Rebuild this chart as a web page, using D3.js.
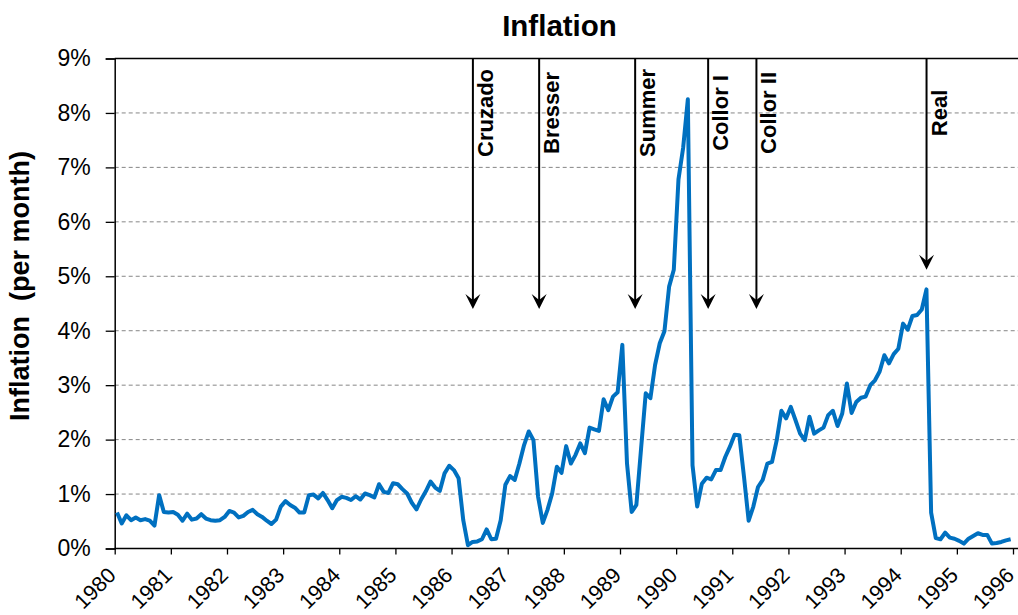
<!DOCTYPE html>
<html>
<head>
<meta charset="utf-8">
<script src="https://cdn.jsdelivr.net/npm/d3@7"></script>
<style>
  body { margin: 0; background: #fff; }
  svg { display: block; }
  text { font-family: Arial, "Liberation Sans", sans-serif; fill: #000; }
</style>
</head>
<body>
<svg id="svg_inflation" width="1018" height="615"></svg>
<script>
// monthly inflation (% per month)
const y1980 = [0.66, 0.46, 0.61, 0.52, 0.57, 0.52, 0.54, 0.51, 0.42, 0.98, 0.67, 0.66];
const y1981 = [0.67, 0.62, 0.51, 0.64, 0.53, 0.55, 0.63, 0.55, 0.52, 0.51, 0.52, 0.58];
const y1982 = [0.69, 0.66, 0.57, 0.60, 0.67, 0.71, 0.63, 0.58, 0.51, 0.45, 0.53, 0.77];
const y1983 = [0.87, 0.80, 0.75, 0.66, 0.66, 0.98, 0.99, 0.92, 1.02, 0.89, 0.74, 0.89];
const y1984 = [0.95, 0.93, 0.89, 0.96, 0.90, 1.01, 0.98, 0.94, 1.18, 1.04, 1.02, 1.20];
const y1985 = [1.18, 1.09, 1.01, 0.84, 0.72, 0.90, 1.05, 1.23, 1.12, 1.06, 1.38, 1.52];
const y1986 = [1.44, 1.29, 0.52, 0.06, 0.12, 0.13, 0.17, 0.35, 0.17, 0.18, 0.52, 1.17];
const y1987 = [1.33, 1.26, 1.56, 1.90, 2.15, 1.99, 0.95, 0.47, 0.71, 1.01, 1.50, 1.39];
const y1988 = [1.88, 1.56, 1.72, 1.93, 1.75, 2.22, 2.19, 2.16, 2.74, 2.54, 2.79, 2.87];
const y1989 = [3.74, 1.56, 0.67, 0.80, 1.83, 2.85, 2.76, 3.37, 3.77, 3.99, 4.81, 5.12];
const y1990 = [6.78, 7.36, 8.25, 1.53, 0.77, 1.19, 1.30, 1.27, 1.44, 1.44, 1.68, 1.87];
const y1991 = [2.09, 2.08, 1.32, 0.51, 0.77, 1.13, 1.26, 1.56, 1.59, 1.99, 2.53, 2.39];
const y1992 = [2.60, 2.36, 2.11, 1.99, 2.42, 2.11, 2.17, 2.22, 2.45, 2.53, 2.25, 2.48];
const y1993 = [3.03, 2.49, 2.69, 2.77, 2.79, 3.00, 3.09, 3.25, 3.55, 3.40, 3.57, 3.67];
const y1994 = [4.13, 4.02, 4.27, 4.29, 4.39, 4.76, 0.66, 0.19, 0.17, 0.29, 0.20, 0.18];
const y1995 = [0.14, 0.09, 0.18, 0.23, 0.28, 0.25, 0.25, 0.09, 0.10, 0.12, 0.15, 0.17];

const yearLabels = ['1980','1981','1982','1983','1984','1985','1986','1987','1988',
                    '1989','1990','1991','1992','1993','1994','1995','1996'];
const pctTicks = [0, 1, 2, 3, 4, 5, 6, 7, 8, 9];

// stabilisation plans: name, date (fractional year), arrow tip (%)
const planNames = ['Cruzado', 'Bresser', 'Summer', 'Collor I', 'Collor II', 'Real'];
const planDates = [1986.38, 1987.56, 1989.27, 1990.57, 1991.43, 1994.46];
const planTips  = [4.40, 4.40, 4.40, 4.40, 4.40, 5.12];

const monthly = [].concat(y1980, y1981, y1982, y1983, y1984, y1985, y1986, y1987,
  y1988, y1989, y1990, y1991, y1992, y1993, y1994, y1995);
// each month sits in the middle of its slot between the yearly ticks
const data = monthly.map((v, i) => ({date: 1980 + (i + 0.5) / 12, value: v}));

const svg = d3.select('#svg_inflation');

const x = d3.scaleLinear().domain([1980, 1996]).range([114.7, 1013]);
const y = d3.scaleLinear().domain([0, 9]).range([548.5, 58.5]);
const rightEdge = 1018;

// gridlines
svg.append('g')
  .selectAll('line')
  .data(pctTicks.filter(d => d > 0 && d < 9))
  .join('line')
  .attr('x1', x(1980)).attr('x2', rightEdge)
  .attr('y1', d => y(d)).attr('y2', d => y(d))
  .attr('stroke', '#868686')
  .attr('stroke-width', 1)
  .attr('stroke-dasharray', '4,3');

// top border at 9%
svg.append('line')
  .attr('x1', x(1980)).attr('x2', rightEdge)
  .attr('y1', y(9)).attr('y2', y(9))
  .attr('stroke', '#000').attr('stroke-width', 1.3);

// y axis
const yAxis = svg.append('g')
  .attr('transform', `translate(${x(1980)},0)`)
  .call(d3.axisLeft(y).tickValues(pctTicks).tickFormat(d => d + '%').tickSize(9).tickPadding(15));
yAxis.select('.domain').attr('stroke', '#000').attr('stroke-width', 1.5);
yAxis.selectAll('.tick line').attr('stroke', '#000').attr('stroke-width', 1.3);
yAxis.selectAll('.tick text')
  .style('font-size', '23px')
  .style('font-family', 'Arial, "Liberation Sans", sans-serif')
  .attr('fill', '#000');

// x axis
const xAxis = svg.append('g')
  .attr('transform', `translate(0,${y(0)})`)
  .call(d3.axisBottom(x).tickValues(yearLabels.map(Number)).tickFormat((d, i) => yearLabels[i]).tickSize(6).tickSizeOuter(0));
xAxis.select('.domain').attr('d', `M${x(1980)},0H${rightEdge}`).attr('stroke', '#000').attr('stroke-width', 1.5);
xAxis.selectAll('.tick line').attr('stroke', '#000').attr('stroke-width', 1.3);
xAxis.selectAll('.tick text')
  .style('font-size', '21.5px')
  .style('font-family', 'Arial, "Liberation Sans", sans-serif')
  .attr('fill', '#000')
  .attr('text-anchor', 'end')
  .attr('x', 0).attr('y', 0).attr('dy', 0)
  .attr('transform', 'translate(2,28) rotate(-45)');

// inflation line
svg.append('path')
  .datum(data)
  .attr('fill', 'none')
  .attr('stroke', '#0070C0')
  .attr('stroke-width', 4)
  .attr('stroke-linejoin', 'round')
  .attr('d', d3.line().x(d => x(d.date)).y(d => y(d.value)));

// plan arrows
const plans = planNames.map((name, i) => ({name: name, date: planDates[i], tip: planTips[i]}));
const gPlan = svg.append('g')
  .selectAll('g')
  .data(plans)
  .join('g')
  .attr('transform', d => `translate(${x(d.date)},0)`);

gPlan.append('line')
  .attr('x1', 0).attr('x2', 0)
  .attr('y1', y(9)).attr('y2', d => y(d.tip) - 8)
  .attr('stroke', '#000').attr('stroke-width', 2);

gPlan.append('path')
  .attr('d', d => {
    const t = y(d.tip);
    return `M0,${t}L-7.5,${t - 15}L0,${t - 9}L7.5,${t - 15}Z`;
  })
  .attr('fill', '#000');

gPlan.append('text')
  .attr('transform', `translate(20,${y(8)}) rotate(-90)`)
  .attr('text-anchor', 'middle')
  .style('font-size', '22px')
  .style('font-weight', 'bold')
  .text(d => d.name);

// title
svg.append('text')
  .attr('x', 559.5).attr('y', 36)
  .attr('text-anchor', 'middle')
  .style('font-size', '29.5px')
  .style('font-weight', 'bold')
  .text('Inflation');

// y label
svg.append('text')
  .attr('transform', `translate(29,${286}) rotate(-90)`)
  .attr('text-anchor', 'middle')
  .style('font-size', '27px')
  .style('font-weight', 'bold')
  .style('white-space', 'pre')
  .text('Inflation  (per month)');
</script>
</body>
</html>
